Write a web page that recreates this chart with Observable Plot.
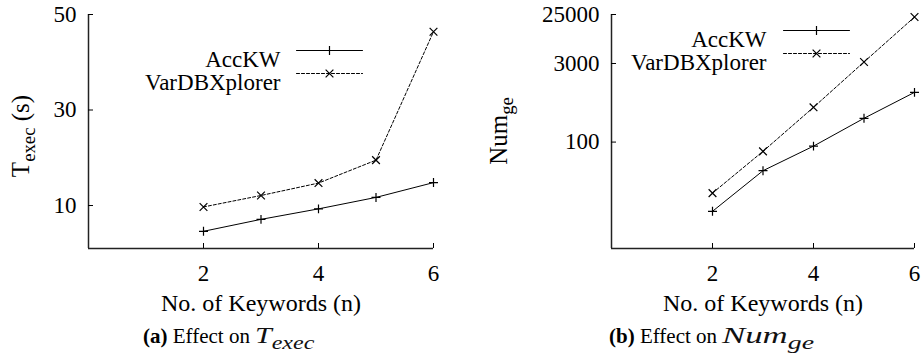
<!DOCTYPE html>
<html><head><meta charset="utf-8">
<script src="https://cdn.jsdelivr.net/npm/d3@7"></script>
<script src="https://cdn.jsdelivr.net/npm/@observablehq/plot@0.6"></script>
<style>
body{margin:0;background:#fff;}
#wrap{position:relative;width:924px;height:362px;font-family:"Liberation Serif","Times New Roman",serif;color:#000;overflow:hidden;background:#fff}
.chart{position:absolute;top:0}
.ytitle{position:absolute;transform:translate(-50%,-50%) rotate(-90deg);white-space:nowrap;font-size:25px;line-height:1}
.ytitle sub{font-size:0.75em;vertical-align:baseline;position:relative;top:0.3em}
.caption{position:absolute;white-space:nowrap;font-size:21px;line-height:1}
.math{display:inline-block;transform-origin:left center;font-style:italic;font-size:24px;font-weight:normal;color:#111}
.math sub{font-size:0.8em;vertical-align:baseline;position:relative;top:0.3em}
</style></head><body>
<div id="wrap">
  <div id="chartA" class="chart" style="left:0"></div>
  <div id="chartB" class="chart" style="left:462px"></div>
  <div class="ytitle" style="left:20px;top:136px">T<sub>exec</sub> (s)</div>
  <div class="ytitle" style="left:498px;top:131px">Num<sub>ge</sub></div>
  <div class="caption" style="left:143px;top:323px"><b>(a)</b> Effect on <span class="math" style="transform:scaleX(1.25)">T<sub>exec</sub></span></div>
  <div class="caption" style="left:609px;top:323px"><b>(b)</b> Effect on <span class="math" style="transform:scaleX(1.45)">Num<sub>ge</sub></span></div>
</div>
<script>
// ---- data ----
const keywords = [2, 3, 4, 5, 6];
const seriesNames = ["AccKW", "VarDBXplorer"];
const texecAccKW = [4.6, 7.1, 9.3, 11.7, 14.8];
const texecVarDB = [9.7, 12.1, 14.7, 19.5, 46.4];
const numgeAccKW = [5, 29, 84, 280, 860];
const numgeVarDB = [11, 67, 450, 3200, 22400];
const xTicks = [2, 4, 6];
const texecTicks = [10, 30, 50];
const numgeTicks = [100, 3000, 25000];
const xLabel = "No. of Keywords (n)";

function toRows(a, b) {
  const rows = [];
  keywords.forEach((n, i) => {
    rows.push({n, value: a[i], series: seriesNames[0]});
    rows.push({n, value: b[i], series: seriesNames[1]});
  });
  return rows;
}

const lineShape = {draw(context, l) { context.moveTo(0, 0); context.lineTo(0, -l); }};
const dashes = [null, "3,2"];
const symbols = ["plus", "times"];
const symbolR = [3, 3.6];
const FONT = "'Liberation Serif', 'Times New Roman', serif";

function makeChart({rows, yType, yDomain, yTicks, width, marginLeft, marginRight, legend}) {
  const height = 320, marginTop = 14, marginBottom = height - 248;
  const marks = [
    Plot.ruleX([0], {stroke: "#222", strokeWidth: 1.5}),
    Plot.ruleY([yDomain[0]], {stroke: "#222", strokeWidth: 1.5}),
    Plot.axisX(xTicks, {tickSize: -5, fill: "none", label: null}),
    Plot.axisX(xTicks, {tickSize: 0, tickPadding: 16, label: null, fontSize: 23, fontFamily: FONT}),
    Plot.axisY(yTicks, {tickSize: -5, fill: "none", label: null}),
    Plot.text(yTicks, {y: d => d, frameAnchor: "left", dx: -12, textAnchor: "end", text: d => String(d), fontSize: 23, fontFamily: FONT}),
    Plot.text([xLabel], {frameAnchor: "bottom", dy: 62, fontSize: 24, fontFamily: FONT})
  ];
  seriesNames.forEach((s, i) => {
    const data = rows.filter(d => d.series === s);
    marks.push(Plot.line(data, {x: "n", y: "value", stroke: "black", strokeWidth: 1, strokeDasharray: dashes[i]}));
    marks.push(Plot.dot(data, {x: "n", y: "value", symbol: symbols[i], r: symbolR[i], stroke: "black", strokeWidth: 1.2}));
    const dy = legend.dy + i * 23;
    marks.push(Plot.text([s], {frameAnchor: "top-left", dx: legend.textRight, dy, textAnchor: "end", fontSize: 23, fontFamily: FONT}));
    marks.push(Plot.vector([s], {frameAnchor: "top-left", dx: legend.lineStart, dy, length: 66, rotate: 90, anchor: "start", shape: lineShape, stroke: "black", strokeWidth: 1, strokeDasharray: dashes[i]}));
    marks.push(Plot.dot([s], {frameAnchor: "top-left", dx: legend.lineStart + 33, dy, symbol: symbols[i], r: symbolR[i], stroke: "black", strokeWidth: 1.2}));
  });
  return Plot.plot({
    width, height, marginLeft, marginRight, marginTop, marginBottom,
    style: {fontFamily: FONT, color: "#000", background: "transparent", overflow: "visible"},
    x: {domain: [0, 6]},
    y: {type: yType, domain: yDomain},
    marks
  });
}

document.getElementById("chartA").append(makeChart({
  rows: toRows(texecAccKW, texecVarDB), yType: "linear", yDomain: [1, 50], yTicks: texecTicks,
  width: 462, marginLeft: 88, marginRight: 29,
  legend: {textRight: 192, lineStart: 208, dy: 36}
}));
document.getElementById("chartB").append(makeChart({
  rows: toRows(numgeAccKW, numgeVarDB), yType: "log", yDomain: [1, 25000], yTicks: numgeTicks,
  width: 462, marginLeft: 149, marginRight: 10,
  legend: {textRight: 155, lineStart: 172, dy: 16}
}));
</script>
</body></html>
